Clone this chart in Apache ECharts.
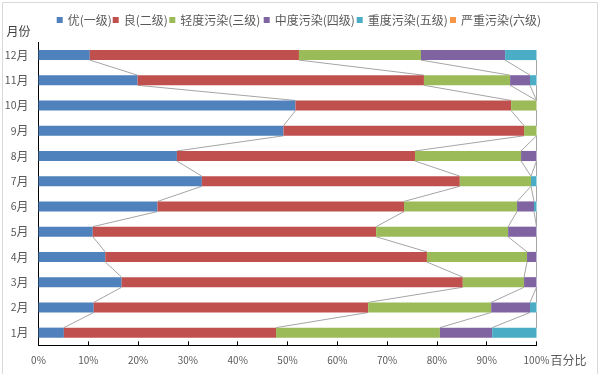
<!DOCTYPE html>
<html>
<head>
<meta charset="utf-8">
<script src="https://cdn.jsdelivr.net/npm/echarts@6/dist/echarts.min.js"></script>
<style>html,body{margin:0;padding:0;background:#fff}#c{width:598px;height:374px}</style>
</head>
<body>
<div id="c"></div>
<script>
const months = ['1月','2月','3月','4月','5月','6月','7月','8月','9月','10月','11月','12月'];
const seriesNames = ['优(一级)','良(二级)','轻度污染(三级)','中度污染(四级)','重度污染(五级)','严重污染(六级)'];
const you      = [5.1, 11.1, 16.7, 13.4, 10.9, 23.9, 32.8, 27.8, 49.2, 51.6, 19.9, 10.3];
const liang    = [42.6, 55.1, 68.5, 64.6, 56.9, 49.5, 51.8, 47.8, 48.3, 43.3, 57.5, 42.0];
const qingdu   = [32.9, 24.7, 12.3, 20.1, 26.5, 22.7, 14.3, 21.3, 2.5, 5.1, 17.3, 24.5];
const zhongdu  = [10.5, 7.8, 2.5, 1.9, 5.7, 3.4, 0, 3.1, 0, 0, 4.0, 16.9];
const zhongdu5 = [8.9, 1.3, 0, 0, 0, 0.5, 1.1, 0, 0, 0, 1.3, 6.3];
const yanzhong = [0, 0, 0, 0, 0, 0, 0, 0, 0, 0, 0, 0];

const colors = ['#4F81BD','#C0504D','#9BBB59','#8064A2','#4BACC6','#F79646'];
const allData = [you, liang, qingdu, zhongdu, zhongdu5, yanzhong];

// cumulative boundaries used for the series lines
const cums = [];
let run = months.map(() => 0);
allData.forEach(arr => {
  run = run.map((v, i) => v + arr[i]);
  cums.push(run.slice());
});

const chart = echarts.init(document.getElementById('c'), null, {renderer: 'canvas'});
const font = '"Noto Sans CJK SC", "Microsoft YaHei", sans-serif';

const barSeries = allData.map((arr, k) => ({
  name: seriesNames[k],
  type: 'bar',
  stack: 'total',
  barWidth: '40%',
  data: arr,
  itemStyle: {color: colors[k]},
  z: 3
}));

const pairs = months.slice(0, months.length - 1).map((m, i) => [0, i]);
const legendLefts = [56.7, 112.7, 169.3, 263.7, 356.7, 450];

const option = {
  animation: false,
  textStyle: {fontFamily: font},
  graphic: [{
    type: 'rect', left: 0, top: 0,
    shape: {x: 1.5, y: 0.5, width: 595, height: 372},
    style: {fill: 'none', stroke: '#D9D9D9', lineWidth: 1},
    silent: true
  }],
  legend: seriesNames.map((n, k) => ({
    data: [n],
    left: legendLefts[k], top: 14, padding: 0,
    itemWidth: 6, itemHeight: 6,
    icon: 'rect',
    textStyle: {fontSize: 12, color: '#595959', fontFamily: font}
  })),
  grid: {left: 38.5, right: 61.5, top: 42.4, bottom: 28.7, containLabel: false},
  xAxis: {
    type: 'value', min: 0, max: 100, interval: 10,
    name: '百分比', nameLocation: 'end', nameGap: 14, nameMoveOverlap: false,
    nameTextStyle: {fontSize: 12, color: '#595959', verticalAlign: 'top', padding: [9,0,0,0], fontFamily: font},
    axisLine: {show: true, lineStyle: {color: '#000', width: 1}},
    axisTick: {show: true, inside: true, length: 4, lineStyle: {color: '#000'}},
    axisLabel: {formatter: v => v + '%', fontSize: 10, color: '#595959', margin: 10, fontFamily: font},
    splitLine: {show: false}
  },
  yAxis: {
    type: 'category', data: months,
    name: '月份', nameLocation: 'end', nameGap: 5, nameMoveOverlap: false,
    nameTextStyle: {fontSize: 12, color: '#404040', align: 'right', padding: [0, 8, 0, 0], fontFamily: font},
    axisLine: {show: true, lineStyle: {color: '#000', width: 1}},
    axisTick: {show: false},
    axisLabel: {
      margin: 10, color: '#595959', fontFamily: font,
      formatter: v => '{n|' + v.replace('月', '') + '}{m|月}',
      rich: {
        n: {fontSize: 10.5, color: '#595959', fontFamily: font},
        m: {fontSize: 12, color: '#595959', fontFamily: font}
      }
    }
  },
  series: barSeries.concat([{
    type: 'custom',
    name: 'serieslines',
    coordinateSystem: 'cartesian2d',
    encode: {x: 0, y: 1},
    data: pairs,
    silent: true,
    z: 2,
    renderItem: function (params, api) {
      const i = api.value(1);
      const band = api.size([0, 1])[1];
      const half = band * 0.2;
      const children = cums.map(c => {
        const p1 = api.coord([c[i], i]);
        const p2 = api.coord([c[i + 1], i + 1]);
        return {
          type: 'line',
          shape: {x1: p1[0], y1: p1[1] - half, x2: p2[0], y2: p2[1] + half},
          style: {stroke: '#A5A5A5', lineWidth: 1}
        };
      });
      return {type: 'group', children: children};
    }
  }])
};
chart.setOption(option);
</script>
</body>
</html>
